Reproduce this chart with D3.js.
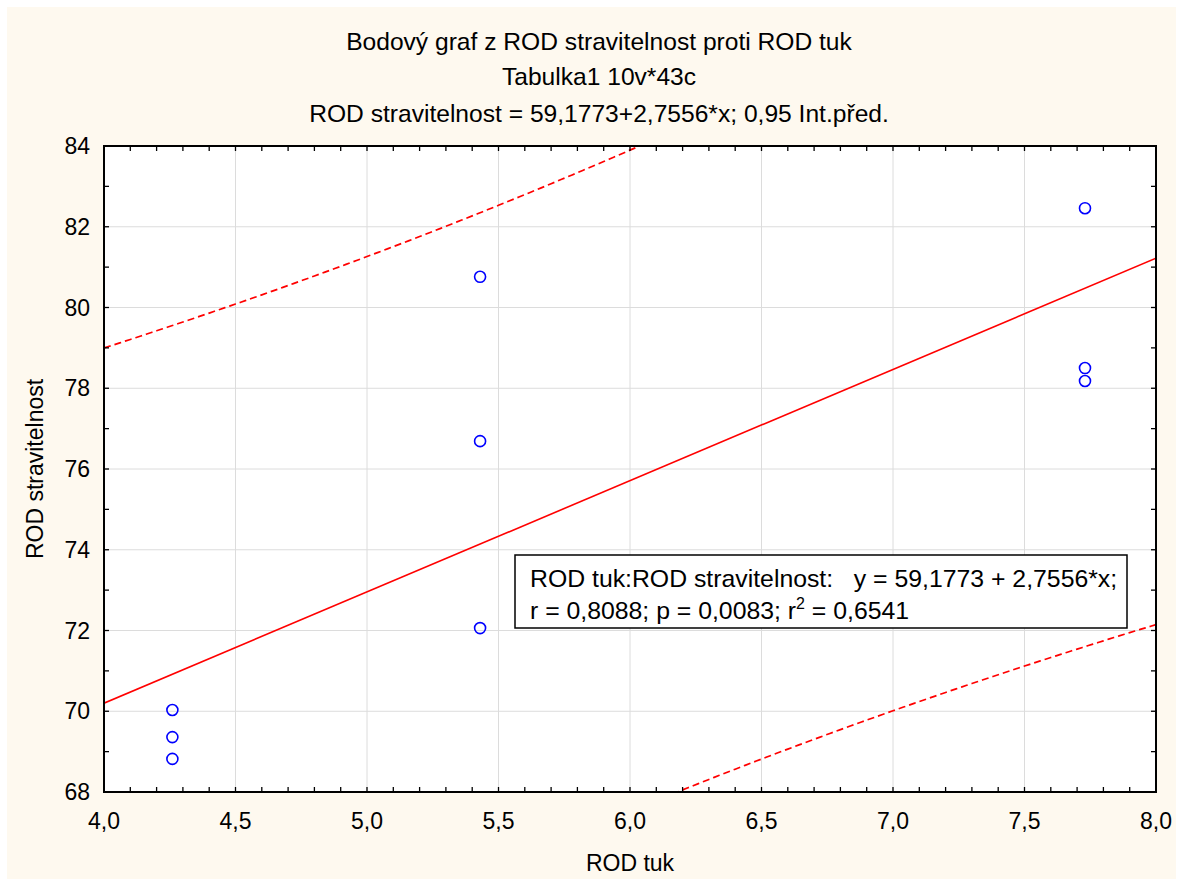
<!DOCTYPE html>
<html><head><meta charset="utf-8">
<script src="https://cdn.jsdelivr.net/npm/d3@7"></script>
<style>
html,body{margin:0;padding:0;background:#fff;}
svg text{font-family:"Liberation Sans",Arial,sans-serif;fill:#000;}
</style></head>
<body>
<script>
// ---- data ----
const titleLines = ["Bodový graf z ROD stravitelnost proti ROD tuk", "Tabulka1 10v*43c", "ROD stravitelnost = 59,1773+2,7556*x; 0,95 Int.před."];
const xLabel = "ROD tuk";
const yLabel = "ROD stravitelnost";
const rodTuk = [4.26, 4.26, 4.26, 5.43, 5.43, 5.43, 7.73, 7.73, 7.73];
const rodStravitelnost = [70.03, 69.36, 68.82, 80.76, 76.69, 72.06, 82.46, 78.50, 78.18];
const intercept = 59.1773;
const slope = 2.7556;
const tCrit = 2.3646; // t(0.975; df = 7)
const xTicks = [4.0, 4.5, 5.0, 5.5, 6.0, 6.5, 7.0, 7.5, 8.0];
const yTicks = [68, 70, 72, 74, 76, 78, 80, 82, 84];
const boxLine1 = "ROD tuk:ROD stravitelnost:   y = 59,1773 + 2,7556*x;";
const boxLine2 = ["r = 0,8088; p = 0,0083; r", "2", " = 0,6541"];

const W = 1180, H = 881;
const svg = d3.select("body").append("svg").attr("width", W).attr("height", H);
svg.append("rect").attr("x", 7).attr("y", 7).attr("width", 1169).attr("height", 872).attr("fill", "#FEF9EF");

const L = 104, R = 1156, T = 146, B = 792;
const x = d3.scaleLinear().domain([4, 8]).range([L, R]);
const y = d3.scaleLinear().domain([68, 84]).range([B, T]);
const fmt = d => d3.format(".1f")(d).replace(".", ",");

svg.append("rect").attr("x", L).attr("y", T).attr("width", R - L).attr("height", B - T).attr("fill", "#fff");

// grid
svg.append("g").selectAll("line").data(xTicks.slice(1, -1)).join("line")
  .attr("x1", d => x(d)).attr("x2", d => x(d)).attr("y1", T).attr("y2", B)
  .attr("stroke", "#DCDCDC").attr("stroke-width", 1);
svg.append("g").selectAll("line").data(yTicks.slice(1, -1)).join("line")
  .attr("y1", d => y(d)).attr("y2", d => y(d)).attr("x1", L).attr("x2", R)
  .attr("stroke", "#DCDCDC").attr("stroke-width", 1);

svg.append("clipPath").attr("id", "clip").append("rect")
  .attr("x", L).attr("y", T).attr("width", R - L).attr("height", B - T);
const plot = svg.append("g").attr("clip-path", "url(#clip)");

// regression & 0.95 prediction interval
const n = rodTuk.length;
const mx = d3.mean(rodTuk);
const sxx = d3.sum(rodTuk, v => (v - mx) ** 2);
const sse = d3.sum(rodTuk, (v, i) => (rodStravitelnost[i] - (intercept + slope * v)) ** 2);
const s = Math.sqrt(sse / (n - 2));
const xs = d3.range(0, 201).map(i => 4 + i * 0.02);
const fit = v => intercept + slope * v;
const hw = v => tCrit * s * Math.sqrt(1 + 1 / n + (v - mx) ** 2 / sxx);
const line = d3.line().x(d => x(d[0])).y(d => y(d[1]));
plot.append("path").attr("d", line([[4, fit(4)], [8, fit(8)]]))
  .attr("fill", "none").attr("stroke", "#FF0000").attr("stroke-width", 1.6);
[1, -1].forEach(sg => {
  plot.append("path").attr("d", line(xs.map(v => [v, fit(v) + sg * hw(v)])))
    .attr("fill", "none").attr("stroke", "#FF0000").attr("stroke-width", 1.7)
    .attr("stroke-dasharray", "7,4");
});

// points
svg.append("g").selectAll("circle").data(rodTuk).join("circle")
  .attr("cx", d => x(d)).attr("cy", (d, i) => y(rodStravitelnost[i])).attr("r", 5.5)
  .attr("fill", "none").attr("stroke", "#0000FF").attr("stroke-width", 1.6);

// axes (inward ticks)
const xMinor = d3.range(40, 81).map(v => v / 10);
const yMinor = d3.range(68, 85);
const tl = 5;
const axg = svg.append("g").attr("stroke", "#000").attr("stroke-width", 1.3);
axg.selectAll(".xb").data(xMinor).join("line").attr("x1", d => x(d)).attr("x2", d => x(d)).attr("y1", B).attr("y2", B - tl);
axg.selectAll(".xt").data(xMinor).join("line").attr("x1", d => x(d)).attr("x2", d => x(d)).attr("y1", T).attr("y2", T + tl);
axg.selectAll(".yl").data(yMinor).join("line").attr("y1", d => y(d)).attr("y2", d => y(d)).attr("x1", L).attr("x2", L + tl);
axg.selectAll(".yr").data(yMinor).join("line").attr("y1", d => y(d)).attr("y2", d => y(d)).attr("x1", R).attr("x2", R - tl);
svg.append("rect").attr("x", L).attr("y", T).attr("width", R - L).attr("height", B - T)
  .attr("fill", "none").attr("stroke", "#000").attr("stroke-width", 2);

// tick labels
svg.append("g").selectAll("text").data(xTicks).join("text")
  .attr("x", d => x(d)).attr("y", 829).attr("text-anchor", "middle").attr("font-size", 23).text(fmt);
svg.append("g").selectAll("text").data(yTicks).join("text")
  .attr("x", 90).attr("y", d => y(d) + 8).attr("text-anchor", "end").attr("font-size", 23).text(d => d);

// axis titles
svg.append("text").attr("x", 630).attr("y", 871).attr("text-anchor", "middle").attr("font-size", 23).text(xLabel);
svg.append("text").attr("transform", "translate(43,469) rotate(-90)").attr("text-anchor", "middle").attr("font-size", 23).text(yLabel);

// titles
svg.append("g").selectAll("text").data(titleLines).join("text")
  .attr("x", 599).attr("y", (d, i) => [50, 85, 122][i]).attr("text-anchor", "middle").attr("font-size", 24.6).text(d => d);

// equation box
svg.append("rect").attr("x", 515).attr("y", 555).attr("width", 612).attr("height", 73)
  .attr("fill", "#fff").attr("stroke", "#000").attr("stroke-width", 1.5);
svg.append("text").attr("x", 530).attr("y", 587).attr("font-size", 24.8).attr("xml:space", "preserve")
  .style("white-space", "pre").text(boxLine1);
const t2 = svg.append("text").attr("x", 530).attr("y", 619).attr("font-size", 24.8);
t2.append("tspan").text(boxLine2[0]);
t2.append("tspan").attr("dy", -10).attr("font-size", 16).text(boxLine2[1]);
t2.append("tspan").attr("dy", 10).text(boxLine2[2]);
</script>
</body></html>
